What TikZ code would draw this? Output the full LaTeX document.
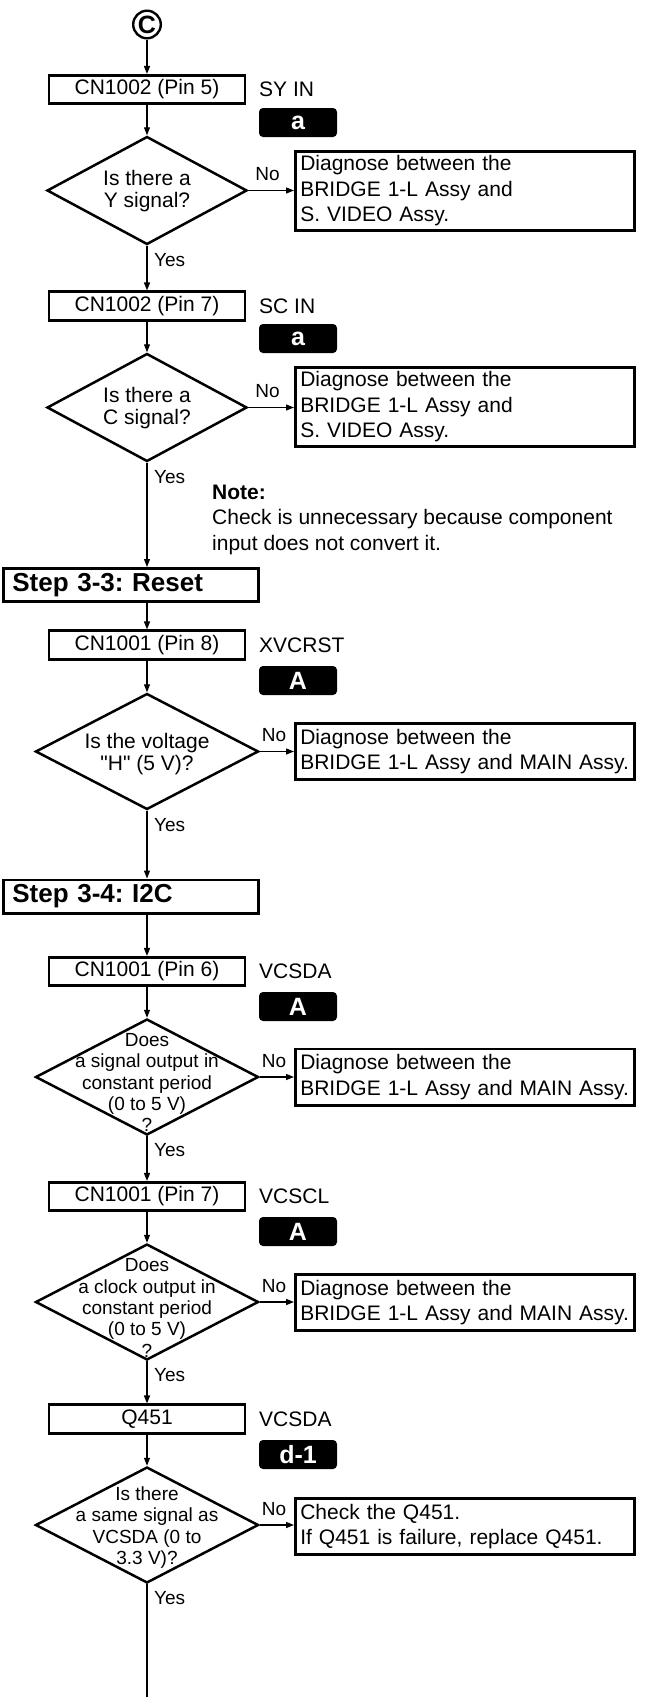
\documentclass[tikz,border=0pt]{standalone}
\usepackage{fontspec}
\setmainfont{Liberation Sans}
\usepackage{tikz}
\usetikzlibrary{arrows.meta,positioning,calc,shapes.geometric}
\frenchspacing
\newcommand{\fsmain}{\fontsize{21}{25.5}\selectfont}
\newcommand{\fsq}{\fontsize{21}{22.5}\selectfont}
\newcommand{\fsqs}{\fontsize{19}{21.3}\selectfont}
\newcommand{\fslab}{\fontsize{19}{22}\selectfont}
\newcommand{\fsstep}{\fontsize{26}{30}\selectfont\bfseries}
\newcommand{\fsbadge}{\fontsize{25}{28}\selectfont\bfseries}
\tikzset{
  chk/.style={draw, line width=2.6pt, minimum width=196pt, minimum height=28.5pt, inner sep=0pt, font=\fsmain},
  siglab/.style={anchor=west, inner sep=0pt, font=\fsmain},
  badge/.style={fill=black, rounded corners=4pt, minimum width=78pt, minimum height=29pt, inner sep=0pt, text=white, font=\fsbadge},
  decide/.style={draw, diamond, line width=2.5pt, inner sep=0pt, minimum width=200pt, minimum height=108pt},
  decidebig/.style={decide, minimum width=223pt, minimum height=116pt},
  qtext/.style={align=center, inner sep=0pt, font=\fsq},
  res/.style={draw, line width=2.6pt, inner xsep=5pt, inner ysep=0pt, text width=329.4pt, align=left, font=\fsmain},
  stepbox/.style={draw, line width=2.6pt, inner xsep=9pt, inner ysep=0pt, text width=237.4pt, minimum height=33.4pt, align=left, font=\fsstep},
  conn/.style={line width=1.3pt, -{Triangle[length=8pt,width=6pt]}},
  yeslab/.style={font=\fslab, inner sep=0pt},
}
\begin{document}
\begin{tikzpicture}[x=1pt, y=-1pt]
\useasboundingbox (0,0) rectangle (661,1697);
% =================== entry point ===================
\node[draw, circle, line width=2.4pt, minimum size=27.6pt, inner sep=0pt, font=\fsbadge] (cc) at (147,24.5) {C};
% =================== measuring points ===================
\foreach \i/\y/\ty/\txt/\sig/\tg in {1/89.5/122.5/{CN1002 (Pin 5)}/{SY IN}/a,
                                     2/306/338.5/{CN1002 (Pin 7)}/{SC IN}/a,
                                     3/645/680.5/{CN1001 (Pin 8)}/XVCRST/A,
                                     4/971.5/1006.5/{CN1001 (Pin 6)}/VCSDA/A,
                                     5/1196.5/1231.5/{CN1001 (Pin 7)}/VCSCL/A,
                                     6/1419/1454.5/Q451/VCSDA/d-1}{
  \node[chk] (b\i) at (147,\y) {\txt};
  \node[siglab] (s\i) at (259,\y) {\sig};
  \node[badge] (t\i) at (298,\ty) {\tg};
}
% =================== decisions ===================
\node[decide] (d1) at (147,190.5) {};
\node[qtext] (q1) at (147,191) {Is there a\\Y signal?};
\node[decide] (d2) at (147,407.5) {};
\node[qtext] (q2) at (147,408) {Is there a\\C signal?};
\node[decidebig] (d3) at (147,751.5) {};
\node[qtext] (q3) at (147,754) {Is the voltage\\\textquotedbl H\textquotedbl{} (5 V)?};
\node[decidebig] (d4) at (147,1077) {};
\node[qtext, font=\fsqs] (q4) at (147,1082.5) {Does\\a signal output in\\constant period\\(0 to 5 V)\\?};
\node[decidebig] (d5) at (147,1302) {};
\node[qtext, font=\fsqs] (q5) at (147,1308) {Does\\a clock output in\\constant period\\(0 to 5 V)\\?};
\node[decidebig] (d6) at (147,1525) {};
\node[qtext, font=\fsqs] (q6) at (147,1527.5) {Is there\\a same signal as\\VCSDA (0 to\\3.3 V)?};
% =================== results ===================
\node[res, minimum height=79.5pt] (r1) at (465,191) {Diagnose between the\\BRIDGE 1-L Assy and\\S. VIDEO Assy.};
\node[res, minimum height=79.5pt] (r2) at (465,407) {Diagnose between the\\BRIDGE 1-L Assy and\\S. VIDEO Assy.};
\node[res, minimum height=56.4pt] (r3) at (465,751.5) {Diagnose between the\\BRIDGE 1-L Assy and MAIN Assy.};
\node[res, minimum height=56.4pt] (r4) at (465,1077) {Diagnose between the\\BRIDGE 1-L Assy and MAIN Assy.};
\node[res, minimum height=56.4pt] (r5) at (465,1302.5) {Diagnose between the\\BRIDGE 1-L Assy and MAIN Assy.};
\node[res, minimum height=56.4pt] (r6) at (465,1526.5) {Check the Q451.\\If Q451 is failure, replace Q451.};
% =================== steps and note ===================
\node[stepbox] (st3) at (131,585) {Step 3-3: Reset};
\node[stepbox] (st4) at (131,896.5) {Step 3-4: I2C};
\node[align=left, anchor=north west, inner sep=0pt, font=\fsmain] (note) at (212,484.5)
   {\textbf{Note:}\\Check is unnecessary because component\\input does not convert it.};
\coordinate (fin) at (147,1697);
% =================== connectors ===================
\draw[conn] (cc) -- (b1);
\foreach \i in {1,...,6}{
  \draw[conn] (b\i) -- (d\i);
  \draw[conn] (d\i.east) -- (d\i.east -| r\i.west) node[yeslab, pos=0.42, above=9pt] {No};
}
\draw[conn] (d1.south) -- (b2.north) node[yeslab, pos=0, anchor=north west, xshift=6.5pt, yshift=-7pt] {Yes};
\draw[conn] (d2.south) -- (d2.south |- st3.north) node[yeslab, pos=0, anchor=north west, xshift=6.5pt, yshift=-7pt] {Yes};
\draw[conn] (b3.north |- st3.south) -- (b3.north);
\draw[conn] (d3.south) -- (d3.south |- st4.north) node[yeslab, pos=0, anchor=north west, xshift=6.5pt, yshift=-7pt] {Yes};
\draw[conn] (b4.north |- st4.south) -- (b4.north);
\draw[conn] (d4.south) -- (b5.north) node[yeslab, pos=0, anchor=north west, xshift=6.5pt, yshift=-7pt] {Yes};
\draw[conn] (d5.south) -- (b6.north) node[yeslab, pos=0, anchor=north west, xshift=6.5pt, yshift=-7pt] {Yes};
\draw[line width=1.3pt] (d6.south) -- (fin) node[yeslab, pos=0, anchor=north west, xshift=6.5pt, yshift=-7pt] {Yes};
\end{tikzpicture}
\end{document}
